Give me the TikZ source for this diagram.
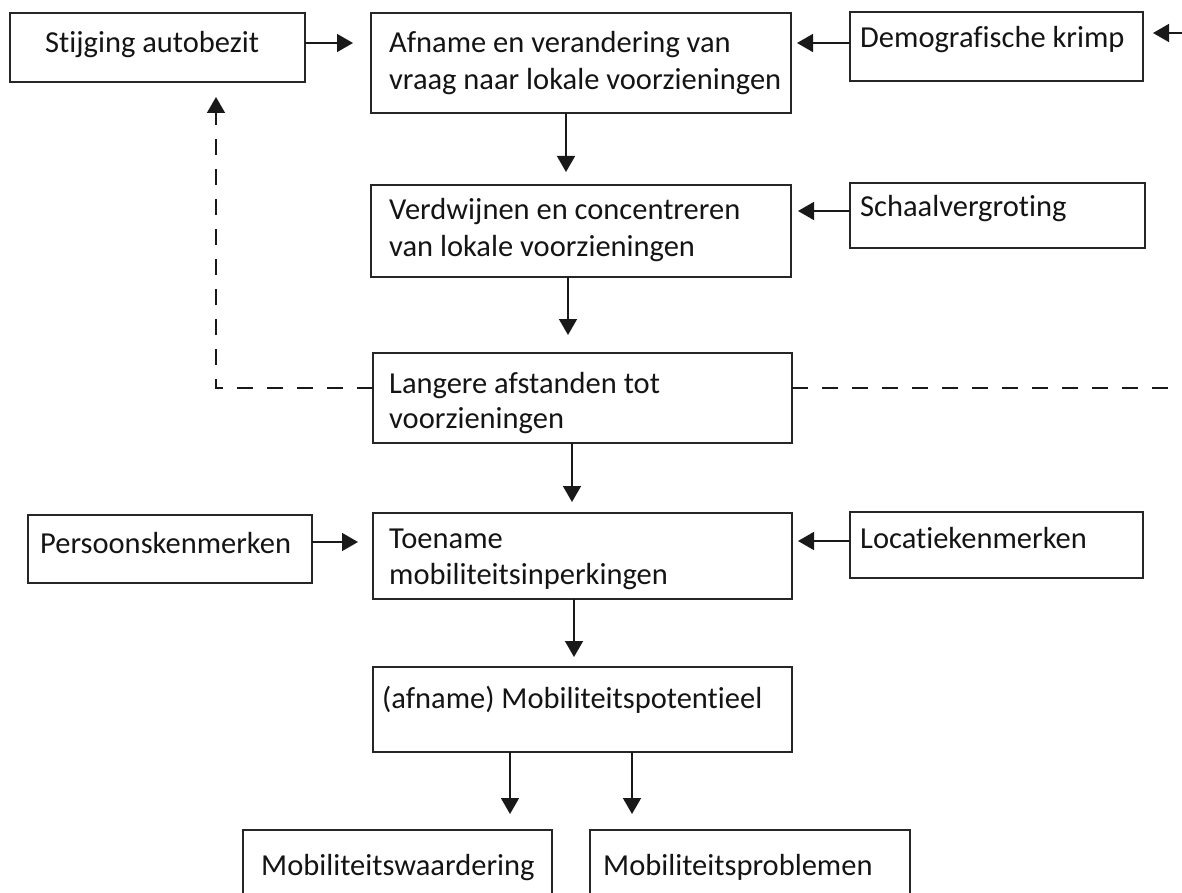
\documentclass[tikz,border=0pt]{standalone}
\usepackage{fontspec}
\setmainfont{Carlito}[Ligatures=NoCommon]
\usetikzlibrary{arrows.meta}
\begin{document}
\begin{tikzpicture}[x=1pt,y=-1pt,
  box/.style={draw=black!85, line width=1.5pt, rectangle, inner sep=0pt, outer sep=0pt, anchor=north west},
  txt/.style={anchor=base west, inner sep=0pt, text=black!92, font=\fontsize{30.5}{36}\selectfont},
  arr/.style={draw=black!90, line width=1.6pt, -{Triangle[length=16pt,width=18pt]}}]
\useasboundingbox (0,0) rectangle (1182,893);
\begin{scope}
\clip (0,0) rectangle (1182,893);
% boxes
\node[box, minimum width=295, minimum height=69] (S) at (10,13) {};
\node[box, minimum width=420, minimum height=100] (A) at (371,13) {};
\node[box, minimum width=293, minimum height=69] (D) at (850,12) {};
\node[box, minimum width=420, minimum height=92] (V) at (371,185) {};
\node[box, minimum width=295, minimum height=65] (Sc) at (850,183) {};
\node[box, minimum width=419, minimum height=90] (L) at (373,353) {};
\node[box, minimum width=284, minimum height=68] (P) at (28,515) {};
\node[box, minimum width=419, minimum height=86] (T) at (373,513) {};
\node[box, minimum width=293, minimum height=66] (Lo) at (850,512) {};
\node[box, minimum width=419, minimum height=85] (M) at (373,667) {};
\node[box, minimum width=309, minimum height=80] (W) at (243,830) {};
\node[box, minimum width=320, minimum height=80] (Pr) at (590,830) {};
% texts
\node[txt] (St) at (45,53) {Stijging autobezit};
\node[txt] (At1) at (389,53) {Afname en verandering van};
\node[txt] (At2) at (389,90) {vraag naar lokale voorzieningen};
\node[txt] (Dt) at (860,48) {Demografische krimp};
\node[txt] (Vt1) at (389,220) {Verdwijnen en concentreren};
\node[txt] (Vt2) at (389,256) {van lokale voorzieningen};
\node[txt] (Sct) at (860,217) {Schaalvergroting};
\node[txt] (Lt1) at (389,393) {Langere afstanden tot};
\node[txt] (Lt2) at (389,428) {voorzieningen};
\node[txt] (Pt) at (40,553) {Persoonskenmerken};
\node[txt] (Tt1) at (389,548) {Toename};
\node[txt] (Tt2) at (389,584) {mobiliteitsinperkingen};
\node[txt] (Lot) at (860,548) {Locatiekenmerken};
\node[txt] (Mt) at (382,708) {(afname) Mobiliteitspotentieel};
\node[txt] (Wt) at (261,875) {Mobiliteitswaardering};
\node[txt] (Prt) at (603,875) {Mobiliteitsproblemen};
% arrow end coordinates
\coordinate (sa) at (353,43);
\coordinate (da) at (797,43);
\coordinate (rr) at (1182,33);
\coordinate (rd) at (1153,33);
\coordinate (av) at (566,172);
\coordinate (sv) at (798,211);
\coordinate (vl) at (568,335);
\coordinate (ls) at (216,97);
\coordinate (lc) at (216,388);
\coordinate (lr) at (1182,388);
\coordinate (lt) at (572,502);
\coordinate (pt) at (358,542);
\coordinate (lot) at (798,541);
\coordinate (tm) at (574,657);
\coordinate (mw) at (510,814);
\coordinate (mp) at (632,814);
% connectors
\draw[arr] (S.east |- sa) -- (sa);
\draw[arr] (D.west |- da) -- (da);
\draw[arr] (rr) -- (rd);
\draw[arr] (A.south -| av) -- (av);
\draw[arr] (Sc.west |- sv) -- (sv);
\draw[arr] (V.south -| vl) -- (vl);
\draw[arr, dash pattern=on 16pt off 14pt] (L.west |- lc) -- (lc) -- (ls);
\draw[draw=black!90, line width=1.6pt, dash pattern=on 16pt off 14pt] (L.east |- lr) -- (lr);
\draw[arr] (L.south -| lt) -- (lt);
\draw[arr] (P.east |- pt) -- (pt);
\draw[arr] (Lo.west |- lot) -- (lot);
\draw[arr] (T.south -| tm) -- (tm);
\draw[arr] (M.south -| mw) -- (mw);
\draw[arr] (M.south -| mp) -- (mp);
\end{scope}
\end{tikzpicture}
\end{document}
